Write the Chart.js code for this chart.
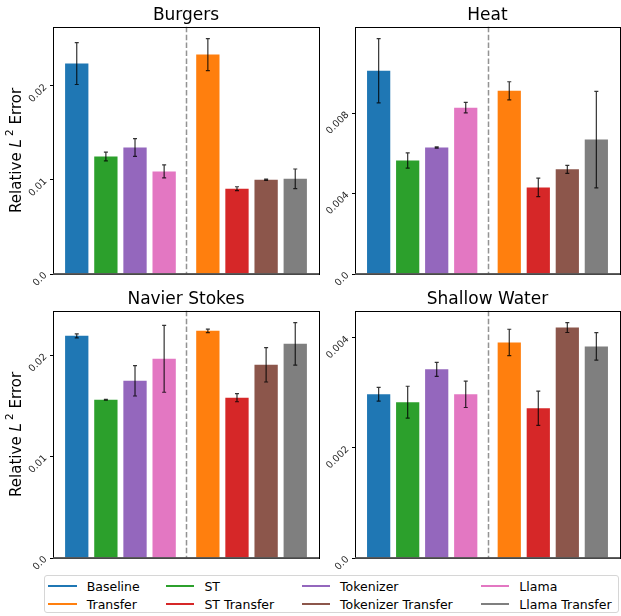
<!DOCTYPE html>
<html>
<head>
<meta charset="utf-8">
<script src="https://cdn.jsdelivr.net/npm/chart.js@4/dist/chart.umd.min.js"></script>
<style>
  body { margin: 0; background: #fff; width: 621px; height: 616px; position: relative; overflow: hidden; font-family: "DejaVu Sans", sans-serif; }
  canvas { position: absolute; }
  #legend { position: absolute; left: 44px; top: 575px; width: 575px; height: 38px; box-sizing: border-box;
    border: 1px solid #d6d6d6; border-radius: 3px; display: grid;
    grid-template-columns: 117.7px 135.7px 179.3px auto; grid-auto-rows: 18.3px;
    padding: 1px 0 0 3.3px; font-size: 12.5px; color: #000; z-index: 2; background: rgba(255,255,255,0.8); }
  .item { display: flex; align-items: center; white-space: nowrap; }
  .swatch { width: 28.4px; height: 2px; margin-right: 10px; }
</style>
</head>
<body>
<canvas id="burgers" width="320" height="290" style="left:0;top:0"></canvas>
<canvas id="heat" width="319" height="290" style="left:302px;top:0"></canvas>
<canvas id="navier" width="320" height="290" style="left:0;top:284px"></canvas>
<canvas id="shallow" width="319" height="290" style="left:302px;top:284px"></canvas>
<div id="legend"></div>

<script>
// series in plotting order: 4 from scratch, then 4 transfer variants
const seriesNames = ["Baseline", "ST", "Tokenizer", "Llama", "Transfer", "ST Transfer", "Tokenizer Transfer", "Llama Transfer"];
const seriesColors = ["#1f77b4", "#2ca02c", "#9467bd", "#e377c2", "#ff7f0e", "#d62728", "#8c564b", "#7f7f7f"];
// legend is laid out row-wise: top row then bottom row
const legendOrder = ["Baseline", "ST", "Tokenizer", "Llama", "Transfer", "ST Transfer", "Tokenizer Transfer", "Llama Transfer"];

const burgersMean = [0.02236, 0.01249, 0.01344, 0.0109, 0.02332, 0.00907, 0.01002, 0.01012];
const burgersErr  = [0.00222, 0.00046, 0.00095, 0.00069, 0.0017, 0.0002, 0.00007, 0.00104];
const heatMean = [0.01012, 0.00565, 0.0063, 0.00828, 0.00912, 0.00431, 0.00521, 0.00669];
const heatErr  = [0.0016, 0.00038, 0.00003, 0.00026, 0.00045, 0.00046, 0.0002, 0.0024];
const navierMean = [0.02194, 0.01563, 0.0175, 0.01967, 0.02243, 0.01583, 0.01908, 0.02115];
const navierErr  = [0.0002, 0.00003, 0.0015, 0.0033, 0.00018, 0.0004, 0.0017, 0.0021];
const shallowMean = [0.002974, 0.00283, 0.003427, 0.002974, 0.003916, 0.002721, 0.004187, 0.003843];
const shallowErr  = [0.000125, 0.00029, 0.000127, 0.00024, 0.00024, 0.00031, 0.00009, 0.00025];

const burgersTicks = [0, 0.01, 0.02];
const burgersTickLabels = ["0.0", "0.01", "0.02"];
const heatTicks = [0, 0.004, 0.008];
const heatTickLabels = ["0.0", "0.004", "0.008"];
const navierTicks = [0, 0.01, 0.02];
const navierTickLabels = ["0.0", "0.01", "0.02"];
const shallowTicks = [0, 0.002, 0.004];
const shallowTickLabels = ["0.0", "0.002", "0.004"];

Chart.defaults.font.family = "'DejaVu Sans', sans-serif";
Chart.defaults.color = "#000";

// bar slots: a half-slot gap between the two groups
function slot(i) { return i < 4 ? i : i + 0.5; }
const splitAt = (slot(3) + slot(4)) / 2;

const errorBars = {
  id: "errorBars",
  afterDatasetsDraw(chart, args, opts) {
    const ctx = chart.ctx, xs = chart.scales.x, ys = chart.scales.y;
    ctx.save();
    ctx.strokeStyle = "rgba(0,0,0,0.8)";
    ctx.lineWidth = 1.2;
    opts.mean.forEach((m, i) => {
      const px = xs.getPixelForValue(slot(i));
      const top = ys.getPixelForValue(m + opts.err[i]);
      const bot = ys.getPixelForValue(m - opts.err[i]);
      ctx.beginPath();
      ctx.moveTo(px, top); ctx.lineTo(px, bot);
      ctx.moveTo(px - 2, top); ctx.lineTo(px + 2, top);
      ctx.moveTo(px - 2, bot); ctx.lineTo(px + 2, bot);
      ctx.stroke();
    });
    ctx.restore();
  }
};

const frameAndSplit = {
  id: "frameAndSplit",
  afterDraw(chart) {
    const ctx = chart.ctx, a = chart.chartArea, xs = chart.scales.x;
    ctx.save();
    const sx = Math.round(xs.getPixelForValue(splitAt)) + 0.5;
    ctx.strokeStyle = "rgba(128,128,128,0.85)";
    ctx.lineWidth = 1.5;
    ctx.setLineDash([5.5, 2.4]);
    ctx.beginPath(); ctx.moveTo(sx, a.top); ctx.lineTo(sx, a.bottom); ctx.stroke();
    ctx.setLineDash([]);
    ctx.strokeStyle = "#000";
    ctx.lineWidth = 1;
    ctx.strokeRect(Math.round(a.left) + 0.5, Math.round(a.top) + 0.5, Math.round(a.right - a.left), Math.round(a.bottom - a.top));
    ctx.strokeStyle = "rgba(80,80,80,0.9)";
    ctx.lineWidth = 1.8;
    ctx.beginPath(); ctx.moveTo(a.left, a.bottom); ctx.lineTo(a.right, a.bottom); ctx.stroke();
    ctx.restore();
  }
};

// y label with italic L and superscript 2
const yLabel = {
  id: "yLabel",
  afterDraw(chart, args, opts) {
    if (!opts.show) return;
    const ctx = chart.ctx, a = chart.chartArea;
    const parts = [
      { t: "Relative ", f: "15px 'DejaVu Sans'", dy: 0 },
      { t: "L", f: "italic 15px 'DejaVu Sans'", dy: 0 },
      { t: " 2", f: "10.5px 'DejaVu Sans'", dy: -6 },
      { t: " Error", f: "15px 'DejaVu Sans'", dy: 0 }
    ];
    ctx.save();
    let total = 0;
    parts.forEach(p => { ctx.font = p.f; p.w = ctx.measureText(p.t).width; total += p.w; });
    ctx.translate(opts.x, (a.top + a.bottom) / 2);
    ctx.rotate(-Math.PI / 2);
    ctx.fillStyle = "#000";
    ctx.textBaseline = "middle";
    let cx = -total / 2;
    parts.forEach(p => { ctx.font = p.f; ctx.fillText(p.t, cx, p.dy); cx += p.w; });
    ctx.restore();
  }
};

function makePanel(id, title, mean, err, ticks, tickLabels, showYLabel) {
  const yMax = 1.05 * Math.max(...mean.map((m, i) => m + err[i]));
  new Chart(document.getElementById(id), {
    type: "bar",
    data: {
      datasets: [{
        data: mean.map((m, i) => ({ x: slot(i), y: m })),
        backgroundColor: seriesColors,
        borderWidth: 0,
        categoryPercentage: 1,
        barPercentage: 0.8
      }]
    },
    options: {
      responsive: false,
      animation: false,
      events: [],
      layout: { padding: { left: 0, right: 1, top: 0, bottom: 16 } },
      scales: {
        x: {
          type: "linear", min: -0.815, max: 8.315, display: false,
          afterBuildTicks: s => { s.ticks = []; }
        },
        y: {
          min: 0, max: yMax,
          afterBuildTicks: s => { s.ticks = ticks.map(v => ({ value: v })); },
          afterFit: s => { s.width = 53; s.paddingTop = 0; s.paddingBottom = 0; },
          grid: { drawOnChartArea: false, drawTicks: true, tickLength: 3, color: "#000" },
          border: { display: false },
          ticks: {
            minRotation: 45, maxRotation: 45, padding: 4.5, color: "#222",
            font: { size: 9.6 },
            callback: (v, i) => tickLabels[i]
          }
        }
      },
      plugins: {
        legend: { display: false },
        tooltip: { enabled: false },
        title: {
          display: true, text: title, fullSize: false, color: "#000",
          font: { size: 17, weight: "normal" },
          padding: { top: 5, bottom: 1.4 }
        },
        errorBars: { mean: mean, err: err },
        yLabel: { show: showYLabel, x: 16.7 }
      }
    },
    plugins: [errorBars, frameAndSplit, yLabel]
  });
}

makePanel("burgers", "Burgers", burgersMean, burgersErr, burgersTicks, burgersTickLabels, true);
makePanel("heat", "Heat", heatMean, heatErr, heatTicks, heatTickLabels, false);
makePanel("navier", "Navier Stokes", navierMean, navierErr, navierTicks, navierTickLabels, true);
makePanel("shallow", "Shallow Water", shallowMean, shallowErr, shallowTicks, shallowTickLabels, false);

const legend = document.getElementById("legend");
legendOrder.forEach(name => {
  const color = seriesColors[seriesNames.indexOf(name)];
  legend.innerHTML += `<div class="item"><span class="swatch" style="background:${color}"></span>${name}</div>`;
});
</script>
</body>
</html>
